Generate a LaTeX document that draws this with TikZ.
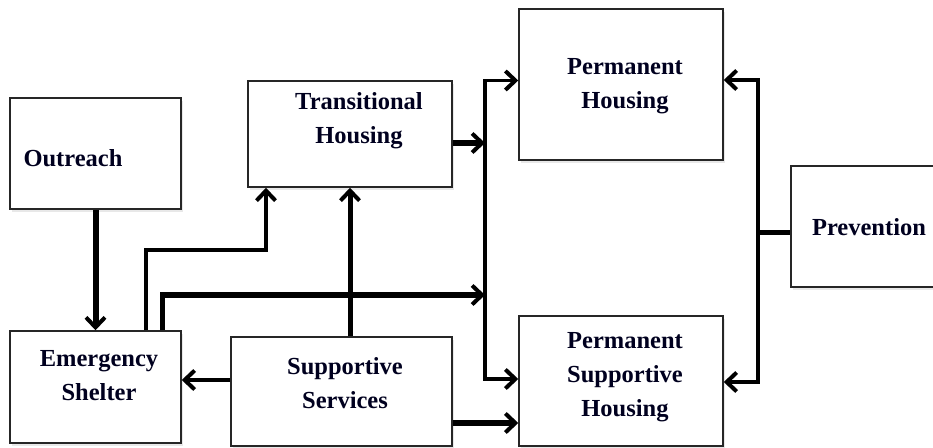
\documentclass[tikz,border=0pt]{standalone}
\usepackage{fontspec}
\setmainfont{Liberation Serif}
\usetikzlibrary{arrows.meta,calc,shadows}
\tikzset{
  box/.style={draw=black!85, line width=1.5pt, fill=white, rectangle, inner sep=0pt,
    drop shadow={opacity=0.18, shadow xshift=2pt, shadow yshift=-2.5pt}},
  lbl/.style={font=\fontsize{24.5}{34}\selectfont\bfseries, text=black!88!blue, align=center, inner sep=0pt},
  conn/.style={draw=black, line width=#1, -{Straight Barb[length=10pt,width=19pt,line width=4pt 0]}},
  plain/.style={draw=black, line width=#1},
}
\begin{document}
\begin{tikzpicture}[x=1pt,y=-1pt]
\useasboundingbox (0,0) rectangle (933,447);
% boxes
\node[box, minimum width=171pt, minimum height=111pt] (out) at (95.5,153.5) {};
\node[box, minimum width=171pt, minimum height=112pt] (es) at (95.5,387) {};
\node[box, minimum width=204pt, minimum height=106pt] (th) at (350,134) {};
\node[box, minimum width=221pt, minimum height=109pt] (ss) at (341.5,391.5) {};
\node[box, minimum width=204pt, minimum height=151pt] (ph) at (621,84.5) {};
\node[box, minimum width=204pt, minimum height=130pt] (psh) at (621,381) {};
\node[box, minimum width=170pt, minimum height=121pt] (prev) at (876,226.5) {};
% labels
\node[lbl] (tout) at (73,158) {Outreach};
\node[lbl] (tes) at (99,376) {Emergency\\Shelter};
\node[lbl] (tth) at (359,121) {Transitional\\Housing};
\node[lbl] (tss) at (345,383) {Supportive\\Services};
\node[lbl] (tph) at (625,86) {Permanent\\Housing};
\node[lbl] (tpsh) at (625,377) {Permanent\\Supportive\\Housing};
\node[lbl] (tprev) at (869,227) {Prevention};
% helper coordinates
\coordinate (ja) at (200,250);
\coordinate (jb) at (300,295);
\coordinate (bus) at (485,230);
\coordinate (pbus) at (758,232);
\coordinate (ssw) at ($(ss.west)+(0,-11.5)$);
\coordinate (sse) at ($(ss.east)+(0,31.5)$);
\coordinate (the) at ($(th.east)+(0,9)$);
\coordinate (phw) at ($(ph.west)+(0,-4)$);
\coordinate (pshw) at ($(psh.west)+(0,-2)$);
\coordinate (phe) at ($(ph.east)+(0,-4.5)$);
\coordinate (pshe) at ($(psh.east)+(0,1)$);
\coordinate (prw) at ($(prev.west)+(0,5.5)$);
% connectors
\draw[conn=6pt] (out.south) -- (es.north);
\draw[conn=3.5pt] ($(es.north)+(50.5,0)$) |- (ja) -| ($(th.south)+(-84,0)$);
\draw[conn=5.5pt] ($(es.north)+(67,0)$) |- (bus |- jb);
\draw[conn=5pt] (th.south |- ss.north) -- (th.south);
\draw[conn=4pt] (ssw) -- (es.east |- ssw);
\draw[conn=6.5pt] (sse) -- (psh.west |- sse);
\draw[conn=6.5pt] (the) -- (bus |- the);
\draw[conn=3.5pt] (bus) |- (phw);
\draw[conn=3.5pt] (bus) |- (pshw);
\draw[plain=5pt] (pbus |- prw) -- (prw);
\draw[conn=3.5pt] (pbus) |- (phe);
\draw[conn=3.5pt] (pbus) |- (pshe);
\end{tikzpicture}
\end{document}
